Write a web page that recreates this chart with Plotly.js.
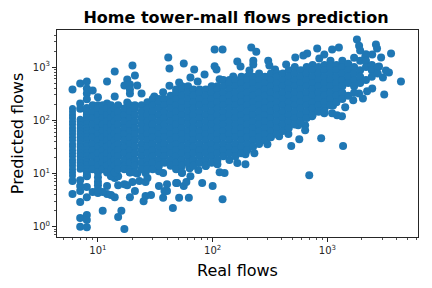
<!DOCTYPE html>
<html><head><meta charset="utf-8">
<script src="https://cdn.plot.ly/plotly-3.0.1.min.js"></script>
<style>html,body{margin:0;padding:0;background:#fff}</style></head>
<body><div id="chart" style="width:432px;height:288px"></div>
<script>
const chartTitle = "Home tower-mall flows prediction";
const xLabel = "Real flows";
const yLabel = "Predicted flows";
const xTicks = [10, 100, 1000];
const yTicks = [1, 10, 100, 1000];

// isolated points readable on their own
const outlierReal = [6,7,8,8,8,8,9,10,12,14,14,12,7,7,20,21,18,17,19,22,19,19,18,24,31,41,42,42,37,
 56,104,122,217,240,69,85,64,74,104,108,164,175,226,226,305,312,350,437,525,151,209,115,51,
 815,1810,1890,1930,2650,2710,2460,3590,2940,4380,3130,1260,1100,940,667,617,850,2140,2820,3440,3240,3050,2460,2220,2040,1890,1680,1430,1120,1100,1215,1340,940,735,640,640,557,
 569,883,1370,695,
 122,62,51,100,81,56,59,64,49,127,115,75,54,63,193,164,231,193,300,484,380,457,260,87,110,
 6,7,8,7,8,8,7,8,11,16,15,17,45,19,25,26,29,37,21,14,13,12,9,10,11,12,8,7,7,7,6,8,15,17,18,20,23,26,27,22,34,40,40,38,48,37,34,26,13,14,15,19];
const outlierPredicted = [380,493,537,398,320,250,363,270,537,830,280,208,208,165,1070,695,587,450,470,450,380,320,217,320,280,1520,940,445,335,
 1170,2140,2140,2330,1950,900,725,640,537,1040,900,1270,1025,1320,1120,1320,1070,900,1120,1510,667,862,590,515,
 2230,3290,2520,2040,2650,2230,1720,1800,1510,537,307,2330,2140,1720,1800,1650,1450,1585,1025,795,862,640,398,350,257,320,237,175,190,135,124,119,135,119,81,65,81,
 44,46,33,9.3,
 3.3,3.5,3.5,5.8,6.6,5.8,6.9,8.9,6.6,10.2,10.6,11.6,10.2,12.6,15,15.7,24,23,35.5,33,50,55,50,13.8,15,
 4.1,2.9,3.6,1.46,1.66,1.34,1.0,0.98,2,2,1.53,0.91,2.25,3.6,3,3.8,3.95,3.5,4.7,3.6,3.95,4.1,4.5,4.3,4.5,5.8,5.6,4.7,5.8,7.5,7.2,8.9,6,6.3,6,6.9,7.2,6.9,8.2,10,5.8,6.3,4.7,4.7,6.6,10.2,11,10.2,8.9,8.2,8.9,10.6];

// the two narrow columns at the smallest real flows
const edgeReal = [6,7];
const edgePredicted = [
 [166,145,126,110,95,83,72,63,55,48,42,36,32,27.5,24,21,18,16,14,12,10.5,9.1],
 [105,95,83,72,63,55,48,42,36,32,27.5,24,21,18,16,14,12]
];

// the dense cloud, estimated column by column (real flow, then its predicted flows)
const cloudReal = [8,9,10,11,12,13,14,15,17,19,21,24,27,30,34,38,43,48,54,61,68,77,87,98,110,124,140,158,178,200,225,254,286,322,363,409,461,520,586,660,744,838,944,1064,1200,1350,1520,1710,1930,2170,2440,2750];
const cloudPredicted = [
 [170,145,126,110,95,83,72,63,55,48,42,36,32,27.5,24,21,18,16,14,12,10.5,9.1],
 [191,145,110,83,63,48,36,27.5,21,16,12],
 [191,166,126,95,72,55,42,32,24,18,14,10.5,8.5,7,6,5],
 [191,145,110,83,63,48,36,27.5,21,16,12],
 [166,126,95,72,55,42,32,24,18,14,10.5],
 [191,145,110,83,63,48,36,27.5,21,16,12,9.1],
 [166,126,95,72,55,42,32,24,18,14,10.5],
 [191,145,110,83,63,48,36,27.5,21,16,12],
 [166,126,95,72,55,42,32,24,18,14,12],
 [191,145,110,83,63,48,36,27.5,21,16,12,10.5],
 [191,166,126,95,72,55,42,32,24,18,14,10.5],
 [191,145,110,83,63,48,36,27.5,21,16,12],
 [219,166,126,95,72,55,42,32,24,18,14,12],
 [251,191,145,110,83,63,48,36,27.5,21,16,12],
 [251,219,166,126,95,72,55,42,32,24,18,14],
 [251,191,145,110,83,63,48,36,27.5,21,16],
 [288,219,166,126,95,72,55,42,32,24,18,14],
 [380,331,251,191,145,110,83,63,48,36,27.5,21,16,12],
 [437,380,288,219,166,126,95,72,55,42,32,24,18,14,10.5],
 [437,331,251,191,145,110,83,63,48,36,27.5,21,16],
 [380,288,219,166,126,95,72,55,42,32,24,18,14],
 [380,331,251,191,145,110,83,63,48,36,27.5,21,16],
 [380,288,219,166,126,95,72,55,42,32,24,18,14],
 [437,331,251,191,145,110,83,63,48,36,27.5,21,16],
 [437,380,288,219,166,126,95,72,55,42,32,24,18],
 [575,437,331,251,191,145,110,83,63,48,36,27.5,21],
 [575,501,380,288,219,166,126,95,72,55,42,32,24,18],
 [575,437,331,251,191,145,110,83,63,48,36,27.5,21],
 [660,501,380,288,219,166,126,95,72,55,42,32,24],
 [660,575,437,331,251,191,145,110,83,63,48,36,27.5],
 [660,501,380,288,219,166,126,95,72,55,42,32],
 [759,575,437,331,251,191,145,110,83,63,48,36],
 [660,501,380,288,219,166,126,95,72,55,42],
 [759,575,437,331,251,191,145,110,83,63,48],
 [759,660,501,380,288,219,166,126,95,72,55],
 [759,575,437,331,251,191,145,110,83,63],
 [871,660,501,380,288,219,166,126,95,72],
 [1000,759,575,437,331,251,191,145,110,83],
 [871,660,501,380,288,219,166,126,95],
 [1000,759,575,437,331,251,191,145,110],
 [1100,871,660,501,380,288,219,166,126],
 [1000,759,575,437,331,251,191,145],
 [1100,871,660,501,380,288,219,166,145],
 [1320,1000,759,575,437,331,251,191],
 [1100,871,660,501,380,288,219],
 [1320,1000,759,575,437,331,251],
 [1150,871,660,501,288],
 [1500,1000,759,575,437,331],
 [1320,871,660,501],
 [1740,1320,1000,575],
 [1100,871,660],
 [1000,759],
 [871,660]
];

const xs = outlierReal.slice(), ys = outlierPredicted.slice();
cloudReal.forEach((r, i) => cloudPredicted[i].forEach(p => { xs.push(r); ys.push(p); }));
const ex = [], ey = [];
edgeReal.forEach((r, i) => edgePredicted[i].forEach(p => { ex.push(r); ey.push(p); }));

const axisFont = {family: "DejaVu Sans", size: 10, color: "#262626"};
const titleFont = {family: "DejaVu Sans", size: 16, color: "#000"};
const common = {
  type: "log", showgrid: false, zeroline: false, showline: true, mirror: true,
  linecolor: "#262626", linewidth: 1, ticks: "outside", ticklen: 4, tickwidth: 1, tickcolor: "#262626",
  tickfont: axisFont, exponentformat: "power", tickmode: "array",
  minor: {dtick: "D1", ticks: "outside", ticklen: 2, tickwidth: 0.8, tickcolor: "#262626", showgrid: false}
};
Plotly.newPlot("chart", [
 {type: "scatter", mode: "markers", x: xs, y: ys, marker: {color: "#1f77b4", size: 8, line: {width: 0}}, hoverinfo: "skip"},
 {type: "scatter", mode: "markers", x: ex, y: ey, marker: {color: "#1f77b4", size: 7, line: {width: 0}}, hoverinfo: "skip"}
], {
  width: 432, height: 288, paper_bgcolor: "#fff", plot_bgcolor: "#fff", showlegend: false,
  margin: {l: 56.5, r: 13.5, t: 29.5, b: 51},
  title: {text: "<b>" + chartTitle + "</b>", font: {family: "DejaVu Sans", size: 16, color: "#000"}, x: 236/432, xanchor: "center", y: 0.94, yanchor: "middle"},
  xaxis: Object.assign({}, common, {range: [0.643, 3.79], tickvals: xTicks, ticktext: ["10<sup>1</sup>","10<sup>2</sup>","10<sup>3</sup>"],
    title: {text: xLabel, font: titleFont, standoff: 9}}),
  yaxis: Object.assign({}, common, {range: [-0.193, 3.697], tickvals: yTicks, ticktext: ["10<sup>0</sup>","10<sup>1</sup>","10<sup>2</sup>","10<sup>3</sup>"],
    title: {text: yLabel, font: titleFont, standoff: 5}})
}, {displayModeBar: false, staticPlot: true});
</script></body></html>
